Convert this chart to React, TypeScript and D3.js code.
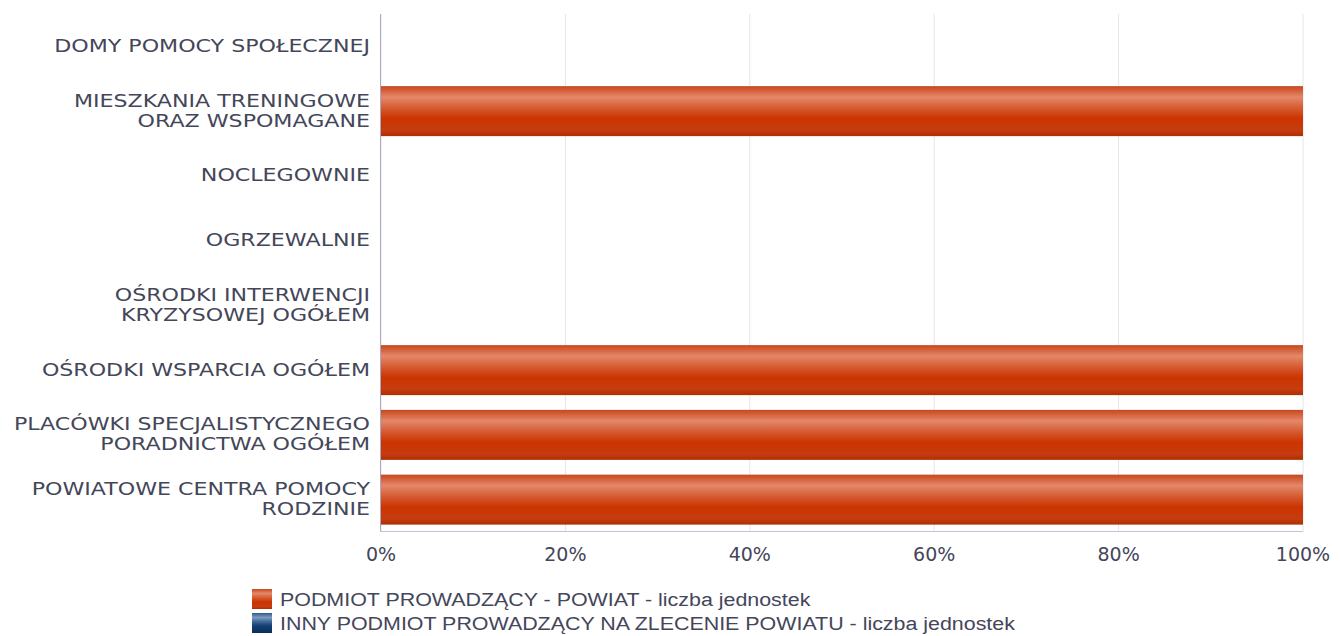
import React from "react";
import * as d3 from "d3";

const categories = [
  "DOMY POMOCY SPOŁECZNEJ",
  "MIESZKANIA TRENINGOWE\nORAZ WSPOMAGANE",
  "NOCLEGOWNIE",
  "OGRZEWALNIE",
  "OŚRODKI INTERWENCJI\nKRYZYSOWEJ OGÓŁEM",
  "OŚRODKI WSPARCIA OGÓŁEM",
  "PLACÓWKI SPECJALISTYCZNEGO\nPORADNICTWA OGÓŁEM",
  "POWIATOWE CENTRA POMOCY\nRODZINIE",
];
const powiatValues = [0, 1, 0, 0, 0, 1, 1, 1];
const innyValues = [0, 0, 0, 0, 0, 0, 0, 0];
const seriesNames = [
  "PODMIOT PROWADZĄCY - POWIAT - liczba jednostek",
  "INNY PODMIOT PROWADZĄCY NA ZLECENIE POWIATU - liczba jednostek",
];
const xTicks = [0, 0.2, 0.4, 0.6, 0.8, 1];

const W = 1340;
const H = 636;
const M = { left: 381, right: 1303, top: 14, bottom: 532 };
const textColor = "#444659";

export default function App() {
  const rows = categories.map((c, i) => ({ cat: c, powiat: powiatValues[i], inny: innyValues[i] }));
  const stacked = d3
    .stack<any>()
    .keys(["powiat", "inny"])
    .offset(d3.stackOffsetExpand)(rows);

  const x = d3.scaleLinear().domain([0, 1]).range([M.left, M.right]);
  const y = d3
    .scaleBand<string>()
    .domain(categories)
    .range([M.top, M.bottom])
    .paddingInner(0.228)
    .paddingOuter(0.114);

  const fmt = d3.format(".0%");
  const gradIds = ["gradOrange", "gradBlue"];

  return (
    <svg width={W} height={H} style={{ position: "absolute", left: 0, top: 0 }}>
      <defs>
        <linearGradient id="gradOrange" x1="0" y1="0" x2="0" y2="1">
          <stop offset="0" stopColor="#c8461c" />
          <stop offset="0.22" stopColor="#e4886a" />
          <stop offset="0.45" stopColor="#d4582e" />
          <stop offset="0.65" stopColor="#cc3400" />
          <stop offset="0.88" stopColor="#c63c10" />
          <stop offset="1" stopColor="#ae2e00" />
        </linearGradient>
        <linearGradient id="gradBlue" x1="0" y1="0" x2="0" y2="1">
          <stop offset="0" stopColor="#2f5a8a" />
          <stop offset="0.22" stopColor="#7e9cc0" />
          <stop offset="0.45" stopColor="#3a6494" />
          <stop offset="0.65" stopColor="#123f72" />
          <stop offset="1" stopColor="#0c2f5c" />
        </linearGradient>
      </defs>

      {/* gridlines */}
      {xTicks.map((t) => (
        <line
          key={"g" + t}
          x1={x(t)}
          x2={x(t)}
          y1={M.top}
          y2={M.bottom}
          stroke="#e4e4ee"
          strokeWidth={1}
        />
      ))}

      {/* bars */}
      {stacked.map((s, si) =>
        s.map((d, i) => {
          const w = x(isNaN(d[1]) ? 0 : d[1]) - x(isNaN(d[0]) ? 0 : d[0]);
          if (!(w > 0)) return null;
          return (
            <rect
              key={si + "-" + i}
              x={x(d[0])}
              y={y(categories[i])}
              width={w}
              height={y.bandwidth()}
              fill={`url(#${gradIds[si]})`}
            />
          );
        })
      )}

      {/* axes */}
      <line x1={M.left - 0.5} x2={M.left - 0.5} y1={M.top} y2={M.bottom} stroke="#a9a9c6" strokeWidth={1} />
      <line x1={M.left - 1} x2={M.right} y1={M.bottom - 0.5} y2={M.bottom - 0.5} stroke="#c2c4d6" strokeWidth={1} />

      {/* x tick labels */}
      {xTicks.map((t) => (
        <text
          key={"t" + t}
          x={x(t)}
          y={561}
          textAnchor="middle"
          fontFamily="DejaVu Sans"
          fontSize={19}
          fill={textColor}
        >
          {fmt(t)}
        </text>
      ))}

      {/* category labels */}
      {categories.map((c) => {
        const lines = c.split("\n");
        const cy = (y(c) as number) + y.bandwidth() / 2;
        const lh = 20;
        return (
          <text
            key={c}
            transform={`translate(370, ${cy}) scale(1.23, 1)`}
            textAnchor="end"
            fontFamily="DejaVu Sans"
            fontSize={18}
            fill={textColor}
          >
            {lines.map((l, li) => (
              <tspan key={li} x={0} y={(li - (lines.length - 1) / 2) * lh + 5.5}>
                {l}
              </tspan>
            ))}
          </text>
        );
      })}

      {/* legend */}
      {seriesNames.map((n, i) => (
        <g key={n} transform={`translate(252, ${589 + i * 24})`}>
          <rect x={0} y={0} width={20} height={20} fill={`url(#${gradIds[i]})`} />
          <text
            transform="translate(28, 16.5) scale(1.19, 1)"
            fontFamily="Liberation Sans"
            fontSize={18}
            fill={textColor}
          >
            {n}
          </text>
        </g>
      ))}
    </svg>
  );
}
